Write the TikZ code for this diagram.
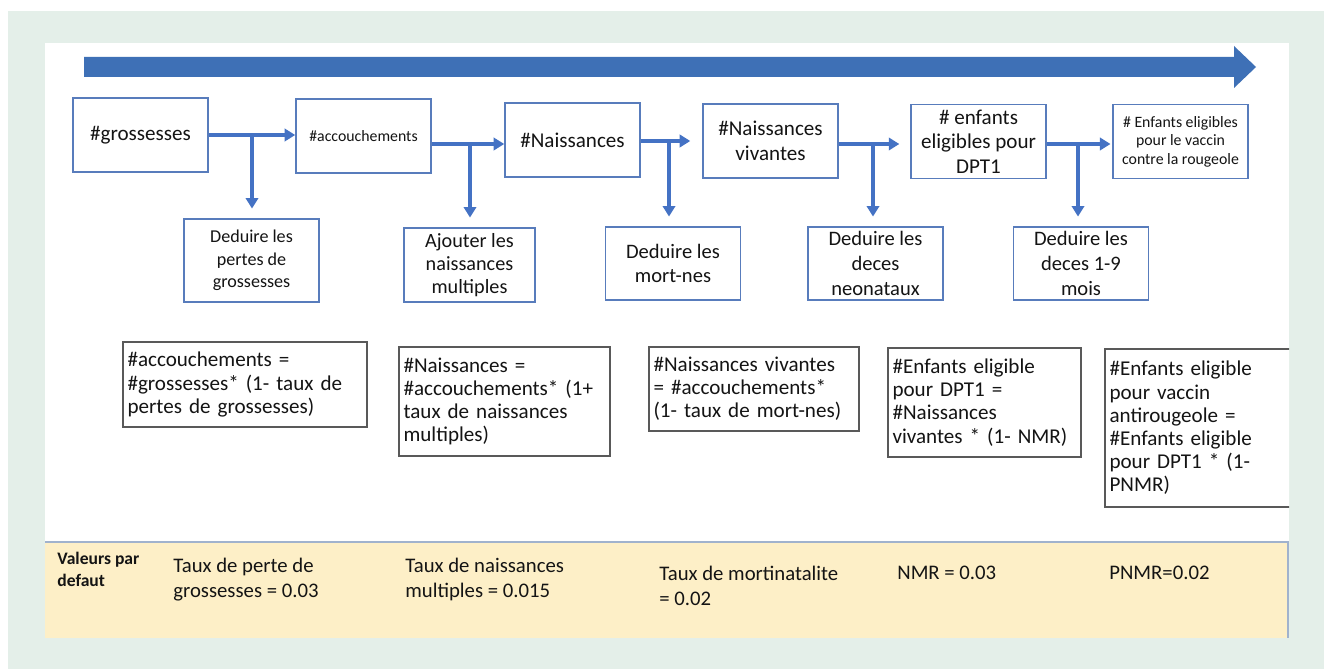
\documentclass[tikz,border=0pt]{standalone}
\usepackage{fontspec}
\setmainfont{Carlito}
\usetikzlibrary{arrows.meta}

\definecolor{pagegreen}{RGB}{228,239,233}
\definecolor{timeblue}{RGB}{62,112,182}
\definecolor{flowblue}{RGB}{68,114,196}
\definecolor{boxblue}{RGB}{88,124,188}
\definecolor{bandyellow}{RGB}{253,239,199}
\definecolor{bandline}{RGB}{160,178,205}

\tikzset{
  stagebox/.style={draw=boxblue, line width=0.9pt, fill=white, align=center,
    minimum width=2.7cm, minimum height=1.48cm, inner sep=1pt,
    font=\fontsize{12}{14}\selectfont},
  changebox/.style={stagebox, font=\fontsize{11.7}{14}\selectfont},
  formulabox/.style={draw=black!65, line width=0.7pt, fill=white, align=left,
    inner xsep=0.09cm, inner ysep=2pt, font=\fontsize{12}{13.2}\selectfont},
  flowarrow/.style={draw=flowblue, line width=2pt,
    -{Triangle[length=6pt,width=7pt]}},
  bandtext/.style={anchor=west, align=left, inner xsep=0pt,
    font=\fontsize{11.8}{14}\selectfont}
}

\begin{document}
\begin{tikzpicture}[x=0.02cm, y=-0.02cm, text=black!92]
  % Background, panel and band
  \fill[white] (0,0) rectangle (1324,669);
  \fill[pagegreen] (8,11) rectangle (1324,669);
  \fill[white] (45,43) rectangle (1289,542);
  \fill[bandyellow] (45,542) rectangle (1288,638);
  \draw[bandline, line width=0.6pt] (45,542) -- (1288,542) -- (1288,638);
  \useasboundingbox (0,0) rectangle (1324,669);

  % Time arrow
  \fill[timeblue] (84,57) -- (1234,57) -- (1234,46) -- (1256,67)
    -- (1234,88) -- (1234,77) -- (84,77) -- cycle;

  % Stages (top row)
  \node[stagebox] (T1) at (140.5,135) {\#grossesses};
  \node[stagebox, font=\fontsize{9}{10.5}\selectfont] (T2) at (363.5,136) {\#accouchements};
  \node[stagebox] (T3) at (572.5,140) {\#Naissances};
  \node[stagebox] (T4) at (770.5,141) {\#Naissances\\vivantes};
  \node[stagebox] (T5) at (978.5,141.5) {\# enfants\\eligibles pour\\DPT1};
  \node[stagebox, font=\fontsize{9}{10.5}\selectfont] (T6) at (1180.5,141.5) {\# Enfants eligibles\\pour le vaccin\\contre la rougeole};

  % Adjustments (second row)
  \node[changebox, minimum height=1.66cm, font=\fontsize{10.3}{12.8}\selectfont] (A) at (251.5,260.5) {Deduire les\\pertes de\\grossesses};
  \node[changebox, minimum width=2.62cm, font=\fontsize{11.5}{13.3}\selectfont] (B) at (469.5,265) {Ajouter les\\naissances\\multiples};
  \node[changebox, minimum height=1.46cm] (C) at (673,263.5) {Deduire les\\mort-nes};
  \node[changebox, minimum height=1.46cm] (D) at (875.5,263.5) {Deduire les\\deces\\neonataux};
  \node[changebox, minimum height=1.46cm] (E) at (1081,263.5) {Deduire les\\deces 1-9\\mois};

  % Connectors
  \foreach \a/\b/\d/\jx/\jy/\gap in {T1/T2/A/252/135/0, T2/T3/B/470/144/0,
      T3/T4/C/669/141/6.8, T4/T5/D/873/144/6.2, T5/T6/E/1078/144/1}{
    \coordinate (j\a) at (\jx,\jy);
    \draw[flowarrow, shorten >=\gap pt] (\a.east |- j\a) -- (\b.west |- j\a);
    \draw[flowarrow, shorten >=5.5pt] (j\a) -- (j\a |- \d.north);
  }

  % Formulas
  \node[formulabox, text width=4.70cm, minimum height=1.7cm] (F1) at (245,384.5)
    {\#accouchements =\\\#grossesses* (1- taux de\\pertes de grossesses)};
  \node[formulabox, text width=4.04cm, minimum height=2.18cm] (F2) at (504.5,401.5)
    {\#Naissances =\\\#accouchements* (1+\\taux de naissances\\multiples)};
  \node[formulabox, text width=4.02cm, minimum height=1.68cm] (F3) at (754,389)
    {\#Naissances vivantes\\= \#accouchements*\\(1- taux de mort-nes)};
  \node[formulabox, text width=3.68cm, minimum height=2.18cm] (F4) at (984.5,402.5)
    {\#Enfants eligible\\pour DPT1 =\\\#Naissances\\vivantes * (1- NMR)};
  \begin{scope}
    \clip (45,43) rectangle (1289,542);
    \node[formulabox, text width=3.72cm, minimum height=3.16cm] (F5) at (1202.5,428)
      {\#Enfants eligible\\pour vaccin\\antirougeole =\\\#Enfants eligible\\pour DPT1 * (1-\\PNMR)};
  \end{scope}

  % Default values
  \node[bandtext, font=\bfseries\fontsize{10}{12.5}\selectfont] (V0) at (57,569.5) {Valeurs par\\defaut};
  \node[bandtext] (V1) at (173,579.5) {Taux de perte de\\grossesses = 0.03};
  \node[bandtext] (V2) at (405,579.5) {Taux de naissances\\multiples = 0.015};
  \node[bandtext] (V3) at (659,586) {Taux de mortinatalite\\= 0.02};
  \node[bandtext] (V4) at (897,573) {NMR = 0.03};
  \node[bandtext] (V5) at (1109,573) {PNMR=0.02};
\end{tikzpicture}
\end{document}
